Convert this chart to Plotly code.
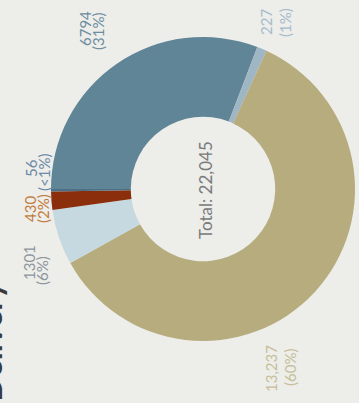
import plotly.graph_objects as go

# Delivery breakdown (counts per category, drawn clockwise)
categories = ["Cat A", "Cat B", "Cat C", "Cat D", "Cat E", "Cat F"]
counts = [6794, 227, 13237, 1301, 430, 56]
count_text = ["6794", "227", "13,237", "1301", "430", "56"]

slice_colors = ["#5f8597", "#9fb6c4", "#b7ac7e", "#c6d8e0", "#8a2e0c", "#4c6f85"]
label_colors = ["#6e8ea0", "#a6bccb", "#c6bf97", "#8c959c", "#c27b3c", "#6b8aa6"]

W, H = 359, 403
BG = "#ededea"

# label lines in pixels: (count line x, percent line x, count y, percent y)
label_pos = [
    (85, 98, 29, 32),
    (266, 285, 22, 23),
    (271, 290, 369, 368),
    (29, 42, 263, 271),
    (30, 43, 209, 209),
    (31, 44, 168, 173),
]

total = sum(counts)


def pct_text(v):
    p = v / total * 100
    return "(<1%)" if p < 0.5 else f"({round(p):d}%)"


def px(x):
    return x / W


def py(y):
    return 1 - y / H


cx, cy, r = 203, 189, 152

fig = go.Figure(
    go.Pie(
        labels=categories,
        values=counts,
        marker=dict(colors=slice_colors, line=dict(width=0)),
        hole=0.475,
        sort=False,
        direction="clockwise",
        rotation=270,
        textinfo="none",
        hoverinfo="label+value+percent",
        showlegend=False,
        domain=dict(x=[px(cx - r), px(cx + r)], y=[py(cy + r), py(cy - r)]),
    )
)


def vtext(x, y, text, size, color, xanchor="center", yanchor="middle"):
    return dict(
        x=px(x), y=py(y), xref="paper", yref="paper",
        text=text, textangle=-90, showarrow=False,
        xanchor=xanchor, yanchor=yanchor,
        font=dict(family="Lato", size=size, color=color),
    )


annotations = []
for (x1, x2, y1, y2), ct, v, col in zip(label_pos, count_text, counts, label_colors):
    annotations.append(vtext(x1, y1, ct, 15, col))
    annotations.append(vtext(x2, y2, pct_text(v), 15, col))

annotations.append(vtext(205, 190, f"Total: {total:,}", 17, "#7a7a7a"))

# chart title along the left edge
annotations.append(vtext(11, 404, "<b>Delivery</b>", 32, "#3a3a3a",
                         xanchor="right", yanchor="bottom"))

fig.update_layout(
    width=W, height=H,
    margin=dict(l=0, r=0, t=0, b=0),
    paper_bgcolor=BG, plot_bgcolor=BG,
    annotations=annotations,
)

fig.write_html("out.html")
